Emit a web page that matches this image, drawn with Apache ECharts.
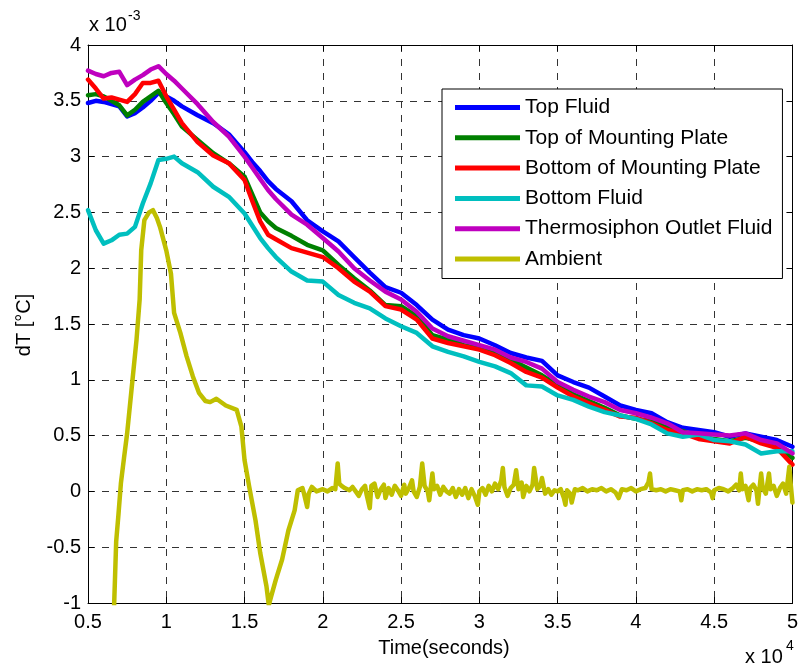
<!DOCTYPE html>
<html>
<head>
<meta charset="utf-8">
<script src="https://cdn.jsdelivr.net/npm/echarts@6/dist/echarts.min.js"></script>
<style>
html,body{margin:0;padding:0;background:#fff;}
#main{width:801px;height:670px;}
</style>
</head>
<body>
<div id="main"></div>
<script>
// Time in units of 1e4 seconds, dT in units of 1e-3 °C
var timeAxis = [0.5,0.55,0.6,0.65,0.7,0.75,0.8,0.85,0.9,0.95,1.0,1.05,1.1,1.2,1.3,1.4,1.5,1.55,1.6,1.65,1.7,1.8,1.9,
  2.0,2.1,2.2,2.3,2.4,2.5,2.6,2.7,2.8,2.9,3.0,3.1,3.2,3.3,3.4,3.5,3.6,3.7,3.8,3.9,4.0,4.1,4.2,4.3,4.4,4.5,4.6,4.7,4.8,4.9,5.0];

var topFluid = [3.48,3.50,3.49,3.47,3.45,3.36,3.39,3.44,3.50,3.57,3.54,3.50,3.45,3.37,3.30,3.20,3.04,2.95,2.87,2.78,2.71,2.60,2.43,
  2.33,2.24,2.10,1.96,1.83,1.78,1.67,1.54,1.45,1.40,1.37,1.31,1.24,1.20,1.17,1.04,0.98,0.93,0.85,0.77,0.73,0.70,0.62,0.57,0.55,0.53,0.49,0.52,0.49,0.46,0.40];

var topMountingPlate = [3.55,3.56,3.54,3.50,3.46,3.37,3.42,3.49,3.54,3.59,3.48,3.38,3.27,3.15,3.03,2.94,2.82,2.66,2.50,2.42,2.36,2.29,2.21,
  2.16,2.03,1.91,1.80,1.67,1.66,1.57,1.40,1.36,1.31,1.28,1.24,1.18,1.11,1.04,0.95,0.87,0.81,0.75,0.68,0.65,0.63,0.57,0.54,0.49,0.47,0.45,0.48,0.45,0.40,0.30];

var bottomMountingPlate = [3.69,3.61,3.52,3.53,3.51,3.49,3.56,3.66,3.66,3.68,3.54,3.42,3.30,3.13,3.01,2.94,2.79,2.60,2.42,2.30,2.26,2.18,2.14,
  2.10,2.00,1.88,1.79,1.66,1.63,1.54,1.37,1.33,1.30,1.27,1.22,1.15,1.07,1.02,0.93,0.85,0.79,0.73,0.67,0.66,0.61,0.55,0.52,0.47,0.45,0.43,0.49,0.43,0.39,0.24];

var bottomFluid = [2.52,2.34,2.22,2.25,2.30,2.31,2.37,2.58,2.76,2.97,2.98,3.00,2.94,2.86,2.73,2.64,2.49,2.38,2.27,2.18,2.10,1.97,1.89,
  1.88,1.76,1.69,1.64,1.55,1.48,1.42,1.30,1.25,1.21,1.16,1.12,1.06,0.95,0.94,0.86,0.82,0.76,0.71,0.68,0.65,0.60,0.52,0.49,0.51,0.46,0.45,0.42,0.34,0.36,0.36];

var thermosiphonOutlet = [3.77,3.74,3.72,3.75,3.76,3.64,3.69,3.73,3.78,3.81,3.74,3.68,3.61,3.47,3.31,3.18,3.00,2.90,2.80,2.70,2.62,2.48,2.39,
  2.27,2.15,2.00,1.89,1.79,1.72,1.61,1.46,1.39,1.35,1.31,1.27,1.20,1.16,1.10,0.98,0.91,0.85,0.80,0.73,0.70,0.66,0.61,0.53,0.52,0.51,0.50,0.52,0.46,0.43,0.34];

var ambientTime = [0.66,0.665,0.672,0.68,0.695,0.71,0.73,0.75,0.78,0.81,0.83,0.84,0.86,0.89,0.915,0.94,0.96,1.0,1.03,1.05,1.09,1.13,1.17,1.21,1.25,1.28,1.32,1.38,1.45,1.48,1.50,1.53,1.57,1.60,1.64,1.655,1.67,1.70,1.74,1.78,1.82,1.84,1.87,1.88,1.90,1.91,1.93,1.96,2.0,2.03,2.06,2.08,2.095,2.105,2.12,
  2.14,2.17,2.19,2.21,2.23,2.25,2.27,2.28,2.30,2.31,2.33,2.35,2.37,2.39,2.40,2.42,2.44,2.46,2.48,2.50,2.52,2.53,2.55,2.57,2.58,2.60,2.62,2.635,2.65,2.67,2.68,2.70,2.71,2.73,2.75,2.77,2.79,2.81,2.83,2.85,2.87,2.89,2.91,2.93,2.95,2.97,2.99,3.00,
  3.02,3.04,3.06,3.08,3.10,3.12,3.14,3.15,3.16,3.18,3.20,3.22,3.235,3.25,3.27,3.28,3.30,3.32,3.34,3.35,3.37,3.39,3.40,3.42,3.44,3.46,3.48,3.50,3.52,3.54,3.55,3.56,3.58,3.59,3.61,3.63,3.66,3.69,3.72,3.75,3.78,3.81,3.84,3.87,3.89,3.91,3.94,3.97,
  4.00,4.03,4.06,4.08,4.09,4.10,4.13,4.16,4.19,4.22,4.25,4.28,4.29,4.30,4.33,4.36,4.39,4.42,4.45,4.48,4.49,4.50,4.53,4.56,4.59,4.62,4.64,4.66,4.67,4.68,4.70,4.72,4.73,4.75,4.77,4.78,4.79,4.80,4.81,4.83,4.85,4.86,4.88,4.90,4.92,4.94,4.96,4.98,4.99,5.0];

var ambient = [-1.3,-1.1,-0.80,-0.45,-0.20,0.07,0.30,0.52,0.94,1.36,1.72,2.16,2.43,2.50,2.52,2.45,2.37,2.16,1.95,1.60,1.42,1.21,1.03,0.88,0.81,0.80,0.83,0.77,0.73,0.58,0.28,0.04,-0.26,-0.55,-0.85,-1.02,-0.94,-0.79,-0.61,-0.35,-0.17,0.01,0.03,-0.02,-0.14,-0.02,0.04,0.00,0.02,0.00,0.03,0.02,0.25,0.07,0.05,
  0.03,0.01,0.04,0.00,-0.04,0.02,0.05,-0.03,-0.15,0.05,0.07,-0.05,0.02,0.06,-0.06,0.03,-0.03,0.05,0.01,-0.04,0.06,-0.02,0.03,0.10,0.00,-0.05,0.04,0.25,0.05,0.00,-0.08,0.16,0.02,0.05,-0.03,0.04,0.00,-0.02,0.03,-0.05,0.02,-0.03,0.03,-0.06,0.02,-0.04,-0.12,0.00,
  0.03,-0.03,0.05,0.00,0.07,0.02,0.10,0.21,0.04,-0.04,0.03,0.06,0.19,0.02,0.08,-0.05,0.05,0.00,0.06,0.21,0.02,0.05,0.12,-0.02,0.02,-0.03,0.01,0.00,0.02,-0.06,-0.12,0.01,-0.02,-0.10,0.02,0.01,0.03,0.00,0.02,0.01,0.03,0.00,0.02,-0.01,-0.06,0.02,0.01,0.03,
  0.00,0.02,0.03,0.08,0.16,0.02,0.01,0.02,0.00,0.02,0.01,0.00,-0.08,0.01,0.02,0.00,0.02,0.01,0.02,-0.01,-0.06,0.01,0.03,0.02,0.00,0.03,0.06,0.01,0.16,0.02,0.05,-0.08,0.03,0.06,0.01,-0.11,0.03,0.16,0.03,-0.02,0.16,0.02,0.05,-0.04,0.03,0.07,-0.02,0.22,0.05,-0.10];

var seriesNames = ['Top Fluid','Top of Mounting Plate','Bottom of Mounting Plate','Bottom Fluid','Thermosiphon Outlet Fluid','Ambient'];
var seriesColors = ['#0000ff','#008000','#ff0000','#00bfbf','#bf00bf','#bfbf00'];
var xTicks = {min:0.5, max:5, interval:0.5};
var yTicks = {min:-1, max:4, interval:0.5};

function pairs(t, v){ return t.map(function(x,i){ return [x, v[i]]; }); }
var seriesValues = [topFluid, topMountingPlate, bottomMountingPlate, bottomFluid, thermosiphonOutlet];

var FONT = 'Liberation Sans, Arial, Helvetica, sans-serif';
var FS = 20;

var series = seriesValues.map(function(v,i){
  return {name:seriesNames[i], type:'line', data:pairs(timeAxis, v), showSymbol:false, symbol:'none',
    lineStyle:{width:4.5, color:seriesColors[i], join:'round', cap:'round'}, itemStyle:{color:seriesColors[i]}, clip:true, animation:false, z:2+i};
});
series.push({name:seriesNames[5], type:'line', data:pairs(ambientTime, ambient), showSymbol:false, symbol:'none',
  lineStyle:{width:4.5, color:seriesColors[5], join:'round', cap:'round'}, itemStyle:{color:seriesColors[5]}, clip:true, animation:false, z:8});

var gridLine = {show:true, lineStyle:{color:'#333', width:1, type:[7,7]}};
var chart = echarts.init(document.getElementById('main'), null, {renderer:'canvas'});
chart.setOption({
  animation:false,
  backgroundColor:'#fff',
  grid:{left:88, right:6, top:45, bottom:67, show:false},
  xAxis:[{type:'value', min:xTicks.min, max:xTicks.max, interval:xTicks.interval, position:'bottom',
      axisLine:{show:true, onZero:false, lineStyle:{color:'#000', width:1}},
      axisTick:{show:true, inside:true, length:6, lineStyle:{color:'#000'}},
      axisLabel:{color:'#000', fontSize:FS, fontFamily:FONT, margin:9},
      splitLine:gridLine},
    {type:'value', min:xTicks.min, max:xTicks.max, interval:xTicks.interval, position:'top',
      axisLine:{show:true, onZero:false, lineStyle:{color:'#000', width:1}},
      axisTick:{show:true, inside:true, length:6, lineStyle:{color:'#000'}},
      axisLabel:{show:false}, splitLine:{show:false}}],
  yAxis:[{type:'value', min:yTicks.min, max:yTicks.max, interval:yTicks.interval, position:'left',
      axisLine:{show:true, onZero:false, lineStyle:{color:'#000', width:1}},
      axisTick:{show:true, inside:true, length:6, lineStyle:{color:'#000'}},
      axisLabel:{color:'#000', fontSize:FS, fontFamily:FONT, margin:7},
      splitLine:gridLine},
    {type:'value', min:yTicks.min, max:yTicks.max, interval:yTicks.interval, position:'right',
      axisLine:{show:true, onZero:false, lineStyle:{color:'#000', width:1}},
      axisTick:{show:true, inside:true, length:6, lineStyle:{color:'#000'}},
      axisLabel:{show:false}, splitLine:{show:false}}],
  legend:{orient:'vertical', left:442, top:89, padding:[8,10,9,13], itemWidth:65, itemHeight:5, itemGap:9.3,
    icon:'rect', borderColor:'#000', borderWidth:1, backgroundColor:'#fff', selectedMode:false,
    textStyle:{color:'#000', fontSize:21, fontFamily:FONT, lineHeight:21},
    data:seriesNames.map(function(n,i){ return {name:n, itemStyle:{color:seriesColors[i]}}; })},
  graphic:[
    {type:'text', left:89, top:15, style:{text:'x 10', font:FS+'px '+FONT, fill:'#000'}},
    {type:'text', left:128, top:9, style:{text:'-3', font:'14px '+FONT, fill:'#000'}},
    {type:'text', left:745, top:647, style:{text:'x 10', font:FS+'px '+FONT, fill:'#000'}},
    {type:'text', left:786, top:639, style:{text:'4', font:'14px '+FONT, fill:'#000'}},
    {type:'text', x:444, y:648, style:{text:'Time(seconds)', font:FS+'px '+FONT, fill:'#000', textAlign:'center', textVerticalAlign:'middle'}},
    {type:'text', x:24, y:325, rotation:Math.PI/2, style:{text:'dT [°C]', font:FS+'px '+FONT, fill:'#000', textAlign:'center', textVerticalAlign:'middle'}}
  ],
  series:series
});
</script>
</body>
</html>
